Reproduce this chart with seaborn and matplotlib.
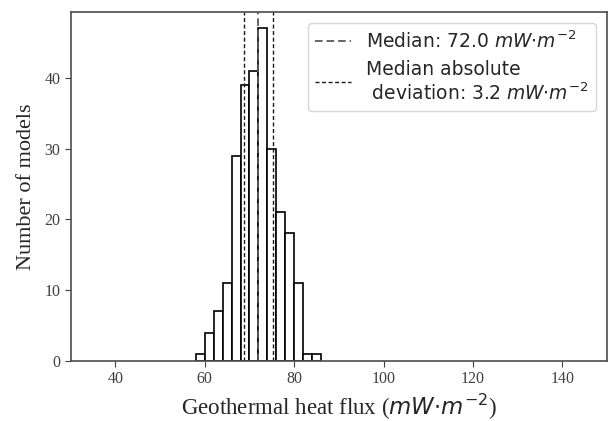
import numpy as np
import pandas as pd
import matplotlib
matplotlib.use("Agg")
import matplotlib.pyplot as plt
import seaborn as sns

# Data
bin_left = [58, 60, 62, 64, 66, 68, 70, 72, 74, 76, 78, 80, 82, 84]
counts = [1, 4, 7, 11, 29, 39, 41, 47, 30, 21, 18, 11, 1, 1]
bin_width = 2
median = 72.0
mad = 3.2
x_ticks = [40, 60, 80, 100, 120, 140]
y_ticks = [0, 10, 20, 30, 40]

sns.set_style("ticks")
plt.rcParams["font.family"] = ["DejaVu Sans"]
plt.rcParams["mathtext.fontset"] = "dejavusans"

df = pd.DataFrame({"center": np.array(bin_left) + bin_width / 2, "count": counts})
edges = list(bin_left) + [bin_left[-1] + bin_width]

fig = plt.figure(figsize=(6.1, 4.21), dpi=100)
ax = fig.add_axes([0.116, 0.143, 0.879, 0.829])

sns.histplot(data=df, x="center", weights="count", bins=edges, ax=ax,
             color="white", edgecolor="black", linewidth=1.2, alpha=1.0)

ax.axvline(median, color="0.35", linestyle=(0, (4.2, 2.2)), linewidth=1.3,
           label="Median: 72.0 $mW{\\cdot}m^{-2}$")
ax.axvline(median - mad, color="0.1", linestyle=(0, (2.9, 1.8)), linewidth=1.0,
           label="Median absolute\n deviation: 3.2 $mW{\\cdot}m^{-2}$")
ax.axvline(median + mad, color="0.1", linestyle=(0, (2.9, 1.8)), linewidth=1.0)

ax.set_xlim(30, 150)
ax.set_ylim(0, 49.35)
ax.set_xticks(x_ticks)
ax.set_yticks(y_ticks)

serif = ["Liberation Serif", "DejaVu Serif"]
for lab in ax.get_xticklabels() + ax.get_yticklabels():
    lab.set_fontfamily(serif)
    lab.set_fontsize(11.5)
    lab.set_color("0.25")
ax.tick_params(colors="0.25", length=4)

ax.set_xlabel("Geothermal heat flux ($mW{\\cdot}m^{-2}$)", fontsize=16.5,
              family=serif, color="0.15", labelpad=3)
ax.set_ylabel("Number of models", fontsize=16, family=serif, color="0.15", labelpad=6)

for s in ax.spines.values():
    s.set_color("0.3")
    s.set_linewidth(1.2)

leg = ax.legend(loc="upper right", fontsize=13.5, frameon=True, fancybox=True,
                framealpha=0.8, edgecolor="0.8", handlelength=1.9,
                borderaxespad=0.6, labelspacing=0.4)
for t in leg.get_texts():
    t.set_color("0.15")

fig.savefig("out.png", dpi=100)
